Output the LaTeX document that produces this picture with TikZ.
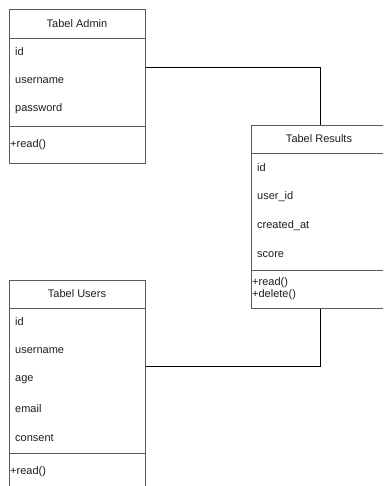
\documentclass[tikz,border=0pt]{standalone}
\usepackage{fontspec}
\setmainfont{Liberation Sans}
\definecolor{edge}{HTML}{5A5A5A}
\definecolor{ink}{HTML}{1E1E1E}
\begin{document}
\begin{tikzpicture}[x=1pt,y=-1pt,
  classbox/.style={draw=edge, line width=0.9pt, fill=white, rectangle, inner sep=0pt, anchor=north west},
  sep/.style={draw=edge, line width=0.9pt},
  title/.style={font=\fontsize{11}{13}\selectfont, text=ink, anchor=center},
  attr/.style={font=\fontsize{11}{13}\selectfont, text=ink, anchor=west, inner sep=0pt},
  conn/.style={draw=black, line width=0.9pt}]
\useasboundingbox (0,0) rectangle (383,486);
\clip (0,0) rectangle (383,486);

% connectors (drawn first, boxes sit on top)
\coordinate (a1) at (145,67.7);
\coordinate (r1) at (320,125);
\coordinate (r2) at (320,308);
\coordinate (u1) at (145,366);
\draw[conn] (a1) -| (r1);
\draw[conn] (r2) |- (u1);

% Tabel Admin
\node[classbox, minimum width=136, minimum height=154] (admin) at (9,9) {};
\draw[sep] (9,38) -- (145,38);
\draw[sep] (9,126) -- (145,126);
\node[title] (adminT) at (77,24) {Tabel Admin};
\node[attr] (adminA1) at (15,52) {id};
\node[attr] (adminA2) at (15,81) {username};
\node[attr] (adminA3) at (15,109) {password};
\node[attr] (adminM1) at (10,145) {+read()};

% Tabel Results
\node[classbox, minimum width=136, minimum height=183] (results) at (251,125) {};
\draw[sep] (251,153) -- (387,153);
\draw[sep] (251,270) -- (387,270);
\node[title] (resT) at (319,138.5) {Tabel Results};
\node[attr] (resA1) at (257,168) {id};
\node[attr] (resA2) at (257,197) {user\_id};
\node[attr] (resA3) at (257,226) {created\_at};
\node[attr] (resA4) at (257,255) {score};
\node[attr] (resM1) at (252,282.5) {+read()};
\node[attr] (resM2) at (252,294.5) {+delete()};

% Tabel Users
\node[classbox, minimum width=136, minimum height=230] (users) at (9,280) {};
\draw[sep] (9,308.5) -- (145,308.5);
\draw[sep] (9,453) -- (145,453);
\node[title] (usersT) at (77,294) {Tabel Users};
\node[attr] (usersA1) at (15,322) {id};
\node[attr] (usersA2) at (15,351) {username};
\node[attr] (usersA3) at (15,380) {age};
\node[attr] (usersA4) at (15,409) {email};
\node[attr] (usersA5) at (15,438) {consent};
\node[attr] (usersM1) at (10,472) {+read()};
\end{tikzpicture}
\end{document}
